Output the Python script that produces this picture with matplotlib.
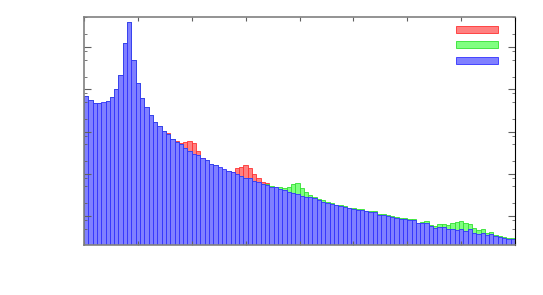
import matplotlib
matplotlib.use('Agg')
import matplotlib.pyplot as plt
from matplotlib.patches import Patch
from matplotlib.ticker import LogLocator, NullFormatter, MultipleLocator
import numpy as np

# bin counts per series (100 bins)
blue = [692, 557, 473, 473, 486, 527, 656, 1014, 2174, 12440,
        39060, 4920, 1406, 621, 380, 246, 168, 135, 103, 87,
        66, 56, 51, 41, 35, 29, 28, 23, 21, 17,
        16, 14.2, 12.7, 11.8, 10.8, 9.7, 8.85, 7.93, 7.93, 6.85,
        6.28, 5.72, 5.42, 4.94, 4.78, 4.43, 4.12, 3.76, 3.44, 3.32,
        3.02, 2.86, 2.77, 2.62, 2.39, 2.18, 2.00, 1.89, 1.79, 1.72,
        1.61, 1.52, 1.44, 1.39, 1.35, 1.29, 1.22, 1.22, 1.06, 1.04,
        1.00, 0.96, 0.88, 0.84, 0.84, 0.80, 0.79, 0.66, 0.68, 0.67,
        0.58, 0.52, 0.55, 0.54, 0.47, 0.47, 0.45, 0.47, 0.44, 0.48,
        0.39, 0.37, 0.39, 0.35, 0.37, 0.32, 0.31, 0.30, 0.28, 0.28]

red = [680, 550, 465, 465, 478, 518, 645, 1000, 2140, 12200,
       38500, 4850, 1390, 615, 378, 245, 168, 137, 104, 92,
       66, 60, 53, 56, 60, 53, 35, 24, 21, 17,
       16, 14.0, 12.6, 11.9, 11.2, 13.7, 14.7, 15.9, 13.5, 9.86,
       7.8, 6.5, 5.94, 4.85, 4.7, 4.35, 4.05, 3.7, 3.38, 3.26,
       2.96, 2.8, 2.72, 2.57, 2.34, 2.14, 1.96, 1.85, 1.75, 1.69,
       1.58, 1.49, 1.41, 1.36, 1.32, 1.26, 1.19, 1.19, 1.04, 1.02,
       0.98, 0.94, 0.86, 0.82, 0.82, 0.78, 0.77, 0.65, 0.67, 0.66,
       0.57, 0.51, 0.54, 0.53, 0.46, 0.46, 0.44, 0.46, 0.43, 0.47,
       0.38, 0.36, 0.38, 0.34, 0.36, 0.31, 0.30, 0.29, 0.27, 0.27]

green = [678, 546, 463, 463, 476, 516, 643, 994, 2130, 12190,
         38280, 4820, 1378, 609, 372, 241, 165, 132, 101, 85,
         65, 55, 50, 40, 34, 28.4, 27.4, 22.5, 20.6, 16.7,
         15.7, 13.9, 12.4, 11.6, 10.6, 9.5, 8.7, 7.8, 7.8, 6.7,
         6.2, 5.8, 5.72, 5.21, 4.94, 4.78, 4.52, 4.94, 5.72, 5.94,
         4.52, 3.76, 3.14, 2.86, 2.57, 2.35, 2.14, 2.00, 1.86, 1.79,
         1.67, 1.58, 1.50, 1.45, 1.44, 1.34, 1.27, 1.27, 1.12, 1.08,
         1.04, 1.00, 0.93, 0.87, 0.87, 0.83, 0.82, 0.67, 0.73, 0.75,
         0.61, 0.58, 0.65, 0.65, 0.61, 0.67, 0.72, 0.75, 0.67, 0.65,
         0.52, 0.45, 0.47, 0.39, 0.41, 0.355, 0.32, 0.31, 0.30, 0.30]

series = [
    (red, '#ff8080', '#ff3030'),
    (green, '#80ff80', '#30e030'),
    (blue, '#8080ff', '#3030ff'),
]

fig = plt.figure(figsize=(5.43, 2.95), dpi=100)
ax = fig.add_axes([84 / 543, 50 / 295, 431 / 543, 228 / 295])

x = np.arange(len(blue)) + 0.5
handles = []
for vals, fill, edge in series:
    ax.bar(x, vals, width=1.0, bottom=0.01, color=fill, edgecolor=edge, linewidth=0.6)
    handles.append(Patch(facecolor=fill, edgecolor=edge, linewidth=0.6))

ax.set_yscale('log')
ax.set_xlim(0, 100)
ax.set_ylim(0.206, 51300)

ax.xaxis.set_major_locator(MultipleLocator(12.5))
ax.yaxis.set_major_locator(LogLocator(base=10, numticks=20))
ax.yaxis.set_minor_locator(LogLocator(base=10, subs=(2, 5, 8), numticks=20))
ax.yaxis.set_minor_formatter(NullFormatter())

ax.tick_params(which='both', direction='in', top=True, right=True,
               labelleft=False, labelbottom=False, color='#606060')
ax.tick_params(axis='x', which='major', length=3)
ax.tick_params(axis='y', which='major', length=5)
ax.tick_params(axis='y', which='minor', length=2.5)

for side in ['left', 'top', 'bottom']:
    ax.spines[side].set_color('#808080')
    ax.spines[side].set_linewidth(1.2)
ax.spines['right'].set_color('black')

ax.legend(handles, ['', '', ''], loc='upper right', bbox_to_anchor=(0.960, 0.965),
          frameon=False, fontsize=6, handlelength=5.0, handleheight=0.9,
          handletextpad=0, borderpad=0, borderaxespad=0, labelspacing=0.78)

plt.savefig('out.png', dpi=100)
plt.close()
